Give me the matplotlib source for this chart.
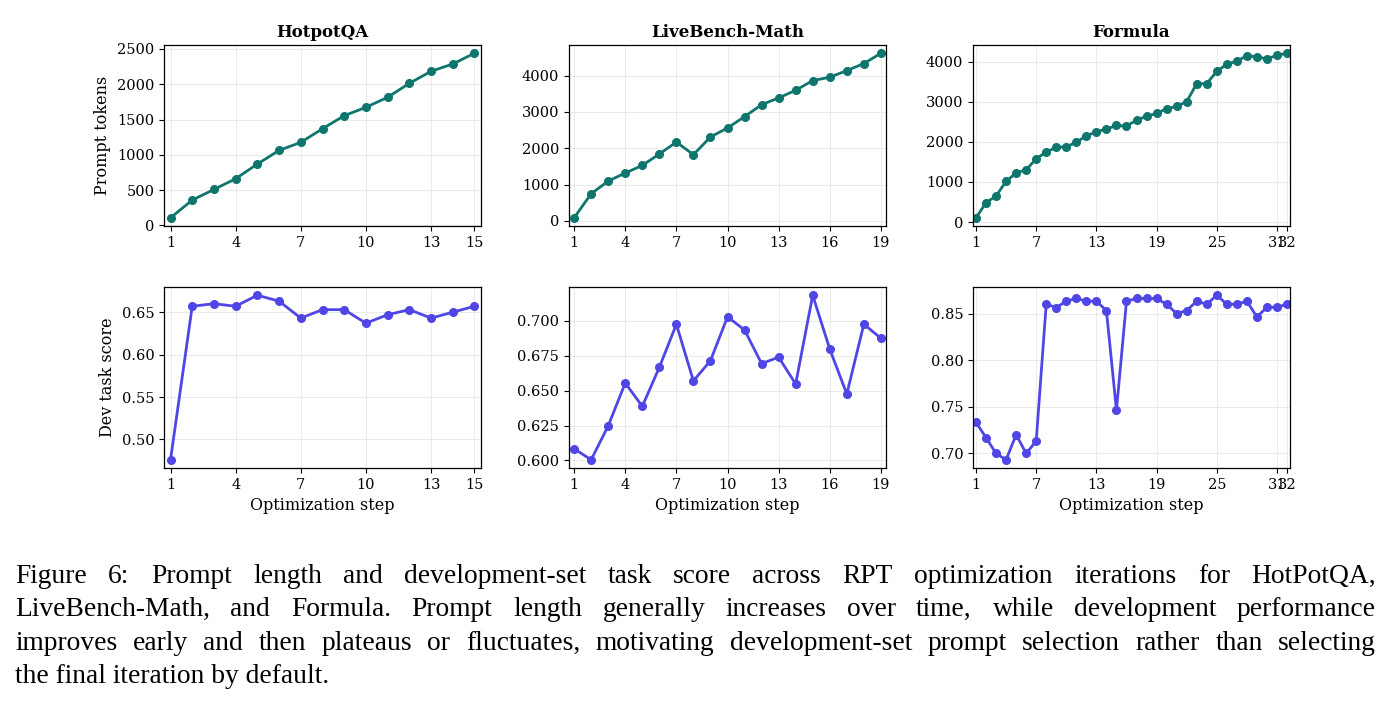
import os
import matplotlib
matplotlib.use("Agg")
import matplotlib.pyplot as plt
from matplotlib import font_manager as fm
from matplotlib.textpath import TextToPath

plt.rcParams['font.family'] = 'DejaVu Serif'

titles = ["HotpotQA", "LiveBench-Math", "Formula"]

hotpot_tokens = [109, 359, 510, 662, 870, 1063, 1177, 1370, 1555, 1673, 1815, 2013, 2183, 2287, 2439]
livebench_tokens = [83, 745, 1095, 1315, 1527, 1840, 2170, 1822, 2310, 2558, 2870, 3200, 3385,
                    3597, 3864, 3956, 4140, 4333, 4618]
formula_tokens = [108, 483, 650, 1017, 1225, 1300, 1583, 1742, 1867, 1875, 1992, 2150, 2250, 2317,
                  2408, 2392, 2542, 2633, 2708, 2825, 2883, 3000, 3450, 3450, 3758, 3933, 4008,
                  4150, 4117, 4067, 4158, 4208]

hotpot_score = [0.476, 0.657, 0.660, 0.657, 0.670, 0.663, 0.643, 0.653, 0.653, 0.637, 0.647,
                0.653, 0.643, 0.650, 0.657]
livebench_score = [0.6084, 0.6005, 0.6248, 0.6555, 0.6388, 0.6667, 0.6976, 0.657, 0.6715, 0.7029,
                   0.6935, 0.6694, 0.674, 0.6548, 0.7184, 0.6798, 0.6476, 0.6976, 0.6876]
formula_score = [0.7334, 0.7168, 0.700, 0.6932, 0.7201, 0.700, 0.7133, 0.8601, 0.8565, 0.8633,
                 0.8662, 0.8633, 0.8633, 0.8532, 0.7464, 0.8633, 0.8662, 0.8662, 0.8662, 0.860,
                 0.850, 0.8532, 0.8633, 0.860, 0.8697, 0.860, 0.860, 0.8633, 0.8464, 0.8568,
                 0.8568, 0.860]

xticks = [[1, 4, 7, 10, 13, 15], [1, 4, 7, 10, 13, 16, 19], [1, 7, 13, 19, 25, 31, 32]]

tokens = [hotpot_tokens, livebench_tokens, formula_tokens]
scores = [hotpot_score, livebench_score, formula_score]

caption_lines = [
    "Figure 6:  Prompt length and development-set task score across RPT optimization iterations for HotPotQA,",
    "LiveBench-Math, and Formula.  Prompt length generally increases over time, while development performance",
    "improves early and then plateaus or fluctuates, motivating development-set prompt selection rather than selecting",
    "the final iteration by default.",
]

TEAL = "#0f766e"
INDIGO = "#4f46e5"

def find_times_file():
    cands = []
    try:
        cands.extend(fm.findSystemFonts())
    except Exception:
        pass
    for d in ["/usr/share/fonts", "/usr/local/share/fonts", os.path.expanduser("~/.fonts"),
              os.path.expanduser("~/.local/share/fonts")]:
        if os.path.isdir(d):
            for root, _, files in os.walk(d):
                for fn in files:
                    if fn.lower().endswith((".ttf", ".otf")):
                        cands.append(os.path.join(root, fn))
    prefs = ["liberationserif-regular", "tinos-regular", "times new roman", "timesnewroman",
             "nimbusroman-regular", "texgyretermes-regular", "freeserif."]
    low = [(c, os.path.basename(c).lower()) for c in cands]
    for p in prefs:
        for c, b in low:
            if p in b:
                return c
    return None

times_file = find_times_file()
if times_file:
    cap_fp = fm.FontProperties(fname=times_file)
else:
    cap_fp = fm.FontProperties(family=["Liberation Serif", "serif"])
cap_fp.set_size(19.8)

W, H = 1395, 712
DPI = 100
fig = plt.figure(figsize=(W / DPI, H / DPI), dpi=DPI)

lefts = [164, 569, 973]
aw = 317
rows = [(45, 226), (287, 468)]

def make_ax(px_left, top, bottom):
    return fig.add_axes([px_left / W, 1 - bottom / H, aw / W, (bottom - top) / H])

for c in range(3):
    for r in range(2):
        ax = make_ax(lefts[c], rows[r][0], rows[r][1])
        data = tokens[c] if r == 0 else scores[c]
        steps = list(range(1, len(data) + 1))
        color = TEAL if r == 0 else INDIGO
        ax.plot(steps, data, color=color, lw=2, marker='o', ms=5.5)
        ax.set_xlim(0.7, len(data) + 0.3)
        ax.set_xticks(xticks[c])
        ax.grid(True, color='#dddddd', lw=0.7, alpha=0.6)
        ax.set_axisbelow(True)
        ax.tick_params(labelsize=10.5, length=3.5, width=0.8)
        for s in ax.spines.values():
            s.set_linewidth(0.9)
        if r == 0:
            ax.set_title(titles[c], fontsize=12, fontweight='bold', pad=6)
        else:
            ax.set_xlabel("Optimization step", fontsize=11.5, labelpad=4)
        if c == 0:
            ax.set_ylabel("Prompt tokens" if r == 0 else "Dev task score", fontsize=11.5)

# justified caption (word widths measured in points, converted to pixels)
t2p = TextToPath()
def word_px(w):
    wd, _, _ = t2p.get_text_width_height_descent(w, cap_fp, ismath=False)
    return wd * DPI / 72.0

x_left, x_right = 15, 1376
baselines = [583, 616, 650, 683]
cap_kw = dict(fontproperties=cap_fp, va='baseline', ha='left', color='black')
for i, line in enumerate(caption_lines):
    y = 1 - baselines[i] / H
    if i == len(caption_lines) - 1:
        fig.text(x_left / W, y, line, **cap_kw)
        continue
    words = [w for w in line.split(" ") if w != ""]
    widths = [word_px(w) for w in words]
    gap = (x_right - x_left - sum(widths)) / (len(words) - 1)
    x = x_left
    for w, wd in zip(words, widths):
        fig.text(x / W, y, w, **cap_kw)
        x += wd + gap

fig.savefig("out.png", dpi=DPI)
